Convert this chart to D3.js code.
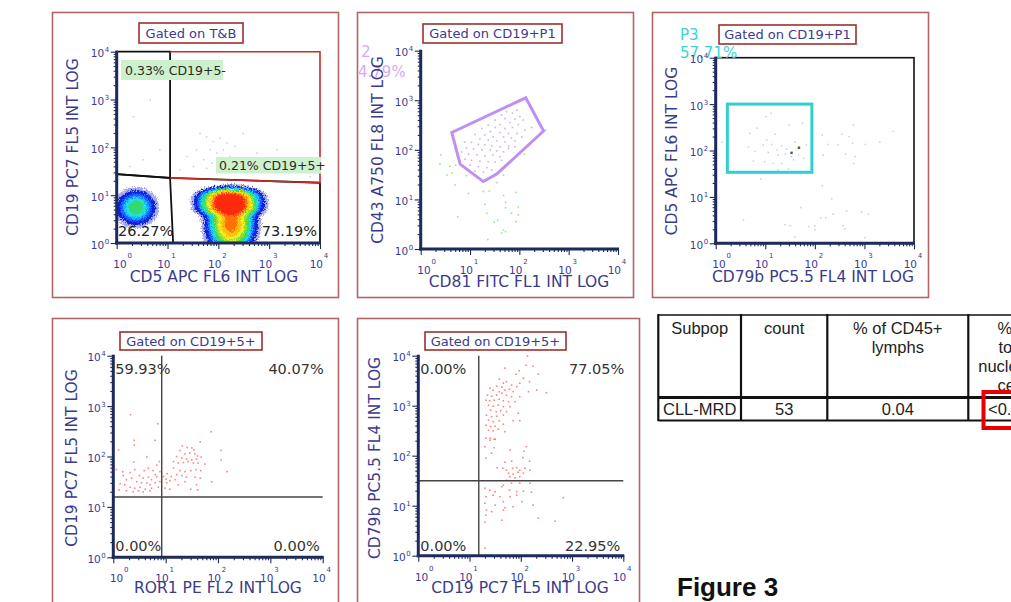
<!DOCTYPE html>
<html><head><meta charset="utf-8">
<script src="https://cdn.jsdelivr.net/npm/d3@7"></script>
<style>body{margin:0;background:#fff;overflow:hidden}svg{display:block;font-family:"DejaVu Sans",Verdana,sans-serif}</style>
</head><body><svg id="c" width="1011" height="602"></svg>
<script>
// ---------------- DATA (all event coordinates are log10 intensities) ----------------
const tickExponents = [0, 1, 2, 3, 4];
const gateTitles = ["Gated on T&B", "Gated on CD19+P1", "Gated on CD19+P1", "Gated on CD19+5+", "Gated on CD19+5+"];
const xAxisTitles = ["CD5 APC FL6 INT LOG", "CD81 FITC FL1 INT LOG", "CD79b PC5.5 FL4 INT LOG", "ROR1 PE FL2 INT LOG", "CD19 PC7 FL5 INT LOG"];
const yAxisTitles = ["CD19 PC7 FL5 INT LOG", "CD43 A750 FL8 INT LOG", "CD5 APC FL6 INT LOG", "CD19 PC7 FL5 INT LOG", "CD79b PC5.5 FL4 INT LOG"];

// Panel 1: density populations [log x, log y, sd x, sd y, weight, shape x, shape y]
const p1Populations = [
  [0.38, 0.74, 0.19, 0.18, 0.16, 2, 2],
  [2.22, 0.85, 0.25, 0.17, 1.00, 2, 3],
  [2.25, 0.40, 0.21, 0.28, 0.50, 2, 2]
];
const p1SparseEvents = [[1.77,2.22],[1.90,2.12],[2.03,2.19],[2.17,2.09],[1.84,1.95],[1.97,1.88],[2.10,1.95],[2.23,1.81],[1.71,1.74],[1.87,1.67],[2.03,1.70],[2.20,1.63],[2.33,2.02],[1.57,1.95],[1.51,1.60],[1.77,1.56],[2.49,1.74],[2.62,1.60],[2.76,1.88],[2.36,1.53],[1.64,2.29],[1.38,1.81],[1.25,1.53],[2.82,1.49],[3.02,1.67],[0.85,1.95],[0.52,1.74],[0.26,1.60],[1.05,2.36],[2.49,2.29],[3.15,1.95],[3.54,1.53],[3.81,1.39],[0.66,2.99],[0.33,2.64]];
const p1GateCD19pos5neg = [[0,4],[1.05,4],[1.05,1.36],[0,1.44]];
const p1GateCD19pos5pos = [[1.05,4],[4,4],[4,1.26],[1.05,1.36]];
const p1LowerGateLine = [[0,1.44],[1.05,1.36],[4,1.26],[4,0]];
const p1Divider = [[1.05,1.36],[1.11,0]];
const p1Labels = ["0.33% CD19+5-", "0.21% CD19+5+", "26.27%", "73.19%"];

// Panel 2
const p2GateP2 = [[0.63,2.35],[2.13,3.05],[2.49,2.38],[1.54,1.51],[1.27,1.36],[0.80,1.71]];
const p2GateLabel = ["2", "4.79%"];
const p2InGate = [[1.95,2.80],[1.86,2.74],[2.01,2.67],[1.71,2.63],[1.91,2.62],[2.08,2.60],[1.81,2.55],[1.61,2.51],[1.98,2.51],[2.25,2.45],[1.51,2.45],[1.71,2.43],[1.86,2.45],[2.11,2.40],[1.41,2.37],[1.61,2.35],[1.78,2.33],[1.95,2.33],[1.30,2.30],[1.47,2.26],[1.68,2.26],[1.84,2.24],[2.05,2.26],[1.20,2.22],[1.37,2.20],[1.54,2.18],[1.71,2.16],[1.91,2.18],[1.03,2.15],[1.17,2.11],[1.30,2.10],[1.44,2.08],[1.61,2.06],[1.78,2.08],[0.93,2.04],[1.07,2.02],[1.24,2.00],[1.41,2.00],[1.54,1.98],[1.68,1.96],[0.83,1.96],[0.97,1.91],[1.14,1.90],[1.30,1.88],[1.47,1.90],[1.61,1.86],[0.90,1.81],[1.03,1.79],[1.20,1.77],[1.37,1.76],[1.51,1.75],[1.00,1.69],[1.17,1.66],[1.34,1.64],[1.10,1.57],[1.27,1.55],[1.44,1.59],[1.74,2.77],[1.64,2.70],[1.51,2.60],[1.37,2.50],[1.24,2.43],[1.10,2.31],[0.89,2.16],[1.78,2.03],[1.91,2.06],[1.64,1.79]];
const p2OutGate = [[0.41,1.90],[0.39,1.71],[0.59,1.67],[0.71,1.69],[0.53,1.49],[0.64,1.53],[0.93,1.48],[0.70,1.29],[0.97,1.12],[1.27,1.16],[1.39,1.17],[1.55,1.34],[1.68,1.49],[2.10,1.91],[2.53,2.40],[1.68,1.08],[1.93,1.14],[1.30,0.90],[1.72,0.94],[1.72,0.83],[1.98,0.85],[1.34,0.72],[1.84,0.72],[1.98,0.69],[0.75,0.65],[1.56,0.58],[1.49,0.54],[1.93,0.55],[1.68,0.38],[1.72,0.35],[1.64,0.32],[1.36,0.19]];

// Panel 3
const p3GateP3 = [[0.235,3.00],[1.94,1.53]];
const p3GateLabel = ["P3", "57.71%"];
const p3Events = [[0.13,2.18],[1.01,2.73],[1.12,2.80],[0.69,2.37],[0.83,2.48],[1.03,2.23],[1.20,2.35],[1.48,2.55],[1.75,2.59],[0.66,2.08],[0.96,2.12],[1.13,2.13],[1.23,2.01],[1.33,2.10],[1.43,2.03],[1.60,2.18],[1.83,2.12],[0.79,1.98],[1.06,1.96],[1.26,1.90],[1.40,1.92],[1.53,1.87],[1.67,1.90],[1.77,1.83],[0.76,1.77],[0.99,1.76],[1.16,1.72],[1.33,1.72],[1.57,1.80],[1.26,1.58],[1.47,1.60],[0.91,1.39],[2.15,2.33],[2.26,2.13],[2.55,2.35],[2.69,2.30],[2.78,2.55],[2.76,2.16],[2.47,2.12],[3.02,2.13],[3.31,2.18],[3.58,2.41],[2.17,1.90],[2.62,1.92],[2.81,1.87],[2.78,1.72],[2.15,1.24],[2.34,0.96],[1.72,0.77],[2.37,0.63],[2.64,0.70],[2.94,0.67],[3.08,0.63],[0.56,0.50],[1.40,0.40],[1.50,0.38],[1.88,0.36],[2.00,0.38],[2.12,0.55],[2.22,0.55],[2.57,0.38],[2.61,0.31],[2.00,0.29],[1.60,0.14],[3.01,0.12]];
const p3Highlighted = [[1.53,1.95],[1.68,2.06]];

// Panel 4 (ROR1 vs CD19)
const p4Quadrant = [0.925, 1.196];
const p4Labels = ["59.93%", "40.07%", "0.00%", "0.00%"];
const p4Events = [[0.33,2.83],[0.85,2.65],[0.40,2.32],[0.40,2.23],[0.80,2.32],[1.87,2.49],[0.10,2.13],[1.66,2.29],[2.06,2.12],[1.32,2.21],[1.41,2.18],[1.50,2.17],[1.54,2.13],[1.27,2.12],[1.46,2.07],[1.37,2.05],[1.56,2.05],[1.61,2.01],[1.21,2.00],[1.31,1.97],[1.40,1.95],[1.50,1.93],[1.59,1.95],[1.68,1.99],[1.15,1.90],[1.24,1.87],[1.34,1.88],[1.43,1.90],[1.53,1.87],[1.62,1.87],[1.75,1.85],[2.06,1.93],[0.64,1.99],[0.39,1.89],[0.88,1.90],[0.83,1.83],[0.06,1.74],[0.18,1.70],[0.32,1.68],[0.41,1.74],[0.59,1.72],[0.76,1.72],[1.15,1.77],[1.27,1.72],[1.37,1.70],[1.48,1.72],[1.58,1.74],[1.67,1.72],[2.17,1.70],[1.21,1.64],[1.31,1.62],[1.40,1.59],[1.56,1.59],[1.66,1.57],[1.11,1.60],[0.50,1.62],[0.57,1.57],[0.67,1.59],[0.73,1.54],[0.83,1.60],[0.96,1.60],[1.01,1.55],[0.25,1.54],[0.35,1.57],[0.45,1.50],[0.54,1.48],[0.64,1.47],[0.70,1.44],[0.80,1.48],[0.89,1.50],[1.02,1.48],[1.08,1.52],[0.13,1.46],[0.22,1.44],[0.32,1.39],[0.41,1.37],[0.51,1.39],[0.61,1.35],[0.73,1.37],[0.86,1.39],[0.99,1.37],[1.08,1.35],[0.11,1.34],[0.25,1.32],[0.38,1.30],[0.48,1.32],[0.57,1.30],[0.70,1.32],[1.48,1.35],[1.61,1.34],[1.88,1.50],[1.37,1.50],[1.59,1.44],[0.19,1.62],[0.89,1.70],[1.03,1.66],[1.18,1.54],[1.24,1.44],[0.67,1.77],[0.80,1.64]];

// Panel 5 (CD19 vs CD79b)
const p5Quadrant = [1.18, 1.50];
const p5Labels = ["0.00%", "77.05%", "0.00%", "22.95%"];
const p5Events = [[2.13,3.99],[2.10,3.81],[2.24,3.79],[1.69,3.75],[1.97,3.70],[1.91,3.63],[2.34,3.63],[1.58,3.53],[2.05,3.55],[2.17,3.48],[1.66,3.45],[1.72,3.48],[1.82,3.41],[1.53,3.39],[1.63,3.37],[1.92,3.38],[1.98,3.45],[1.40,3.35],[1.46,3.31],[1.58,3.28],[1.69,3.31],[1.78,3.33],[1.85,3.28],[2.31,3.31],[2.50,3.26],[2.15,3.28],[1.35,3.21],[1.43,3.19],[1.53,3.21],[1.63,3.25],[1.72,3.21],[1.82,3.18],[1.98,3.18],[1.32,3.11],[1.39,3.10],[1.48,3.11],[1.58,3.13],[1.66,3.10],[1.76,3.08],[1.89,3.08],[1.37,3.01],[1.46,2.99],[1.56,3.01],[1.66,2.98],[1.79,2.98],[1.41,2.91],[1.52,2.88],[1.61,2.90],[1.72,2.88],[1.95,2.85],[1.33,2.81],[1.43,2.78],[1.53,2.79],[1.66,2.81],[1.37,2.71],[1.46,2.68],[1.58,2.70],[1.85,2.70],[1.98,2.70],[1.32,2.61],[1.41,2.58],[1.50,2.59],[1.66,2.63],[1.37,2.51],[1.46,2.50],[1.56,2.53],[1.69,2.48],[1.40,2.35],[1.50,2.33],
  [1.32,2.35],[1.40,2.31],[1.48,2.33],[1.30,2.18],[1.48,2.16],[1.43,2.05],[1.32,1.95],[1.79,2.11],[2.06,2.09],[2.11,2.18],[2.04,1.96],[2.17,1.89],[1.69,1.87],[1.82,1.89],[1.54,1.76],[1.65,1.75],[1.72,1.71],[1.84,1.75],[1.92,1.76],[1.98,1.71],[2.08,1.75],[2.18,1.71],[1.76,1.65],[1.85,1.63],[1.95,1.67],[2.05,1.65],[1.79,1.58],[1.89,1.56],[1.98,1.58],[1.72,1.51],[1.66,1.41],[1.63,1.38],[1.82,1.45],[1.98,1.45],[2.18,1.45],[1.30,1.35],[1.40,1.31],[1.50,1.28],[1.78,1.31],[1.92,1.28],[2.05,1.29],[2.21,1.27],[1.32,1.18],[1.46,1.21],[1.59,1.18],[1.79,1.18],[1.92,1.21],[1.66,1.08],[2.02,1.08],[2.83,1.16],[1.30,1.05],[1.50,1.01],[1.69,0.96],[1.85,0.98],[2.24,1.01],[1.33,0.91],[1.43,0.88],[1.66,0.91],[1.32,0.81],[1.63,0.71],[2.34,0.75],[2.67,0.69],[1.30,0.67],[1.30,0.15]];

// Table
const tableHeaders = [["Subpop"], ["count"], ["% of CD45+", "lymphs"], ["% of", "total", "nucleated", "cells"]];
const tableRow = ["CLL-MRD", "53", "0.04", "<0.01"];
const figureCaption = "Figure 3";

// ---------------- DRAWING ----------------
const svg = d3.select("#c");
const NAVY = "#1d2b5c", TICKTXT = "#3a3a94", TITLE = "#3b3b8c";
const defs = svg.append("defs");
const f = defs.append("filter").attr("id", "speckle").attr("x", "-5%").attr("y", "-5%").attr("width", "110%").attr("height", "110%");
f.append("feTurbulence").attr("type", "fractalNoise").attr("baseFrequency", 0.9).attr("numOctaves", 2).attr("seed", 3).attr("result", "n");
f.append("feDisplacementMap").attr("in", "SourceGraphic").attr("in2", "n").attr("scale", 7).attr("xChannelSelector", "R").attr("yChannelSelector", "G");

const panels = [
  {frame: [52.5, 12.5, 286, 285], title: [139, 23, 104, 20], xr: [116.7, 320], yr: [243, 51.7], yl: [73, 147], xl: [214, 282]},
  {frame: [357.5, 12.5, 276, 285], title: [423, 24, 139, 19], xr: [420.7, 618], yr: [249, 50.7], yl: [378, 150], xl: [519, 287]},
  {frame: [652.5, 12.5, 276, 285], title: [719, 25, 137, 19], xr: [715.7, 914], yr: [243.3, 57.7], yl: [672, 151], xl: [813, 282]},
  {frame: [52.5, 318.5, 286, 300], title: [120, 332, 142, 18], xr: [113.3, 322.7], yr: [557.3, 355.7], yl: [72, 458], xl: [218, 593]},
  {frame: [357.5, 318.5, 282, 300], title: [425, 332, 141, 18], xr: [418.3, 623.3], yr: [555.7, 355.7], yl: [375, 458], xl: [520, 593]}
];

const P = panels.map((p, i) => {
  const x = d3.scaleLog().domain([1, 1e4]).range(p.xr);
  const y = d3.scaleLog().domain([1, 1e4]).range(p.yr);
  const g = svg.append("g");
  g.append("rect").attr("x", p.frame[0]).attr("y", p.frame[1]).attr("width", p.frame[2]).attr("height", p.frame[3])
    .attr("fill", "none").attr("stroke", "#b46464").attr("stroke-width", 1.6);
  return {p, x, y, g, i, X: v => x(Math.pow(10, v)), Y: v => y(Math.pow(10, v))};
});

function drawAxes(o) {
  const {g, x, y, p} = o;
  const minors = [];
  for (let d = 0; d < 4; d++) for (let m = 2; m < 10; m++) minors.push(m * Math.pow(10, d));
  const majors = tickExponents.map(e => Math.pow(10, e));
  const ax = g.append("g");
  const b = p.yr[0], l = p.xr[0];
  [[minors, 3], [majors, 6]].forEach(([vals, sz]) => {
    ax.append("g").attr("transform", `translate(0,${b})`).call(d3.axisBottom(x).tickValues(vals).tickSize(sz).tickFormat(""));
    ax.append("g").attr("transform", `translate(${l},0)`).call(d3.axisLeft(y).tickValues(vals).tickSize(sz).tickFormat(""));
  });
  ax.selectAll(".domain").remove();
  ax.selectAll(".tick line").attr("stroke", NAVY).attr("stroke-width", 1.1);
  ax.append("line").attr("x1", l).attr("x2", l).attr("y1", p.yr[1] - 1).attr("y2", b + 1.5).attr("stroke", NAVY).attr("stroke-width", 3);
  ax.append("line").attr("x1", l - 1.5).attr("x2", p.xr[1] + 1).attr("y1", b).attr("y2", b).attr("stroke", NAVY).attr("stroke-width", 3);
  tickExponents.forEach((e, k) => {
    const tx = x(Math.pow(10, e)) + (k === 0 ? 10 : 3);
    ax.append("text").attr("x", tx).attr("y", b + 25).attr("text-anchor", "end").attr("font-size", 10.5).attr("fill", TICKTXT).text("10");
    ax.append("text").attr("x", tx + 0.8).attr("y", b + 15).attr("font-size", 7).attr("fill", TICKTXT).text(e);
    const ty = y(Math.pow(10, e));
    ax.append("text").attr("x", l - 12.5).attr("y", ty + 5.5).attr("text-anchor", "end").attr("font-size", 10.5).attr("fill", TICKTXT).text("10");
    ax.append("text").attr("x", l - 12).attr("y", ty + 0.5).attr("font-size", 7).attr("fill", TICKTXT).text(e);
  });
  g.append("text").attr("x", p.xl[0]).attr("y", p.xl[1]).attr("text-anchor", "middle").attr("font-size", 15.5).attr("fill", TITLE).text(xAxisTitles[o.i]);
  g.append("text").attr("transform", `translate(${p.yl[0] + 5},${p.yl[1]}) rotate(-90)`).attr("text-anchor", "middle").attr("font-size", 15.5).attr("fill", TITLE).text(yAxisTitles[o.i]);
  const t = p.title;
  g.append("rect").attr("x", t[0]).attr("y", t[1]).attr("width", t[2]).attr("height", t[3]).attr("fill", "#fff").attr("stroke", "#9c3030").attr("stroke-width", 1.6);
  g.append("text").attr("x", t[0] + t[2] / 2).attr("y", t[1] + t[3] / 2 + 4.6).attr("text-anchor", "middle").attr("font-size", 13).attr("fill", TITLE).text(gateTitles[o.i]);
}

function dots(o, data, color, size, op) {
  o.g.append("g").selectAll("rect").data(data).join("rect")
    .attr("x", d => o.X(d[0]) - size / 2).attr("y", d => o.Y(d[1]) - size / 2)
    .attr("width", size).attr("height", size).attr("fill", color).attr("opacity", op);
}

// ---- Panel 1
(function () {
  const o = P[0], p = o.p;
  const w = Math.round(p.xr[1] - p.xr[0]), h = Math.round(p.yr[0] - p.yr[1]);
  const vals = new Float64Array(w * h);
  for (let j = 0; j < h; j++) for (let i = 0; i < w; i++) {
    const lx = Math.log10(o.x.invert(p.xr[0] + i + 0.5)), ly = Math.log10(o.y.invert(p.yr[1] + j + 0.5));
    let s = 0;
    p1Populations.forEach(c => {
      const dx = Math.abs(lx - c[0]) / c[2], dy = Math.abs(ly - c[1]) / c[3];
      s += c[4] * Math.exp(-0.5 * (Math.pow(dx, c[5]) + Math.pow(dy, c[6])));
    });
    vals[j * w + i] = s;
  }
  const mx = d3.max(vals);
  const levels = [0.008, 0.018, 0.036, 0.055, 0.075, 0.1, 0.14, 0.2, 0.27, 0.36, 0.47];
  const cols = ["#3a46c8", "#1020e0", "#1a60ff", "#18b0ff", "#20e0e0", "#30d870", "#90e030", "#f0f020", "#ffc010", "#ff7010", "#ff2a08"];
  const contours = d3.contours().size([w, h]).thresholds(levels.map(v => v * mx))(vals);
  o.g.append("clipPath").attr("id", "clip1").append("rect").attr("x", p.xr[0]).attr("y", p.yr[1]).attr("width", w).attr("height", h);
  const dg = o.g.append("g").attr("clip-path", "url(#clip1)").append("g").attr("filter", "url(#speckle)")
    .attr("transform", `translate(${p.xr[0]},${p.yr[1]})`);
  dg.selectAll("path").data(contours).join("path").attr("d", d3.geoPath()).attr("fill", (d, k) => cols[k]).attr("opacity", (d, k) => k === 0 ? 0.45 : 1);
  dots(o, p1SparseEvents, "#9aa0d8", 1.4, 0.6);
  const line = d3.line().x(d => o.X(d[0])).y(d => o.Y(d[1]));
  o.g.append("path").attr("d", line(p1GateCD19pos5neg) + "Z").attr("fill", "none").attr("stroke", "#111").attr("stroke-width", 1.8);
  o.g.append("path").attr("d", line(p1LowerGateLine)).attr("fill", "none").attr("stroke", "#111").attr("stroke-width", 1.8);
  o.g.append("path").attr("d", line(p1Divider)).attr("fill", "none").attr("stroke", "#111").attr("stroke-width", 1.8);
  o.g.append("path").attr("d", line(p1GateCD19pos5pos)).attr("fill", "none").attr("stroke", "#cc2a2a").attr("stroke-width", 1.6);
  [[121, 60, 102, 20, 125, 75], [216, 157, 105, 16.5, 219, 170]].forEach((b, k) => {
    o.g.append("rect").attr("x", b[0]).attr("y", b[1]).attr("width", b[2]).attr("height", b[3]).attr("fill", "#cdf0cd");
    o.g.append("text").attr("x", b[4]).attr("y", b[5]).attr("font-size", 12.5).attr("fill", "#2a2a2a").text(p1Labels[k]);
  });
  o.g.append("text").attr("x", 118).attr("y", 236).attr("font-size", 14.5).attr("fill", "#222").text(p1Labels[2]);
  o.g.append("text").attr("x", 317).attr("y", 236).attr("text-anchor", "end").attr("font-size", 14.5).attr("fill", "#222").text(p1Labels[3]);
  drawAxes(o);
})();

// ---- Panel 2
(function () {
  const o = P[1];
  o.g.append("text").attr("x", 361).attr("y", 57).attr("font-size", 15).attr("fill", "#d8a8f2").text(p2GateLabel[0]);
  o.g.append("text").attr("x", 358).attr("y", 77).attr("font-size", 15).attr("fill", "#d8a8f2").text(p2GateLabel[1]);
  dots(o, p2OutGate, "#88e488", 1.6, 0.9);
  dots(o, p2InGate, "#c8a2f0", 1.6, 0.85);
  const line = d3.line().x(d => o.X(d[0])).y(d => o.Y(d[1]));
  o.g.append("path").attr("d", line(p2GateP2) + "Z").attr("fill", "none").attr("stroke", "#c08ff2").attr("stroke-width", 3);
  drawAxes(o);
})();

// ---- Panel 3
(function () {
  const o = P[2], p = o.p;
  o.g.append("rect").attr("x", p.xr[0]).attr("y", p.yr[1]).attr("width", p.xr[1] - p.xr[0]).attr("height", p.yr[0] - p.yr[1])
    .attr("fill", "none").attr("stroke", "#111").attr("stroke-width", 1.6);
  dots(o, p3Events, "#b4b6e0", 1.5, 0.7);
  dots(o, p3Highlighted, "#3c6a28", 2.4, 1);
  const r = p3GateP3;
  o.g.append("rect").attr("x", o.X(r[0][0])).attr("y", o.Y(r[0][1])).attr("width", o.X(r[1][0]) - o.X(r[0][0])).attr("height", o.Y(r[1][1]) - o.Y(r[0][1]))
    .attr("fill", "none").attr("stroke", "#2ed0d0").attr("stroke-width", 3);
  o.g.append("text").attr("x", 680).attr("y", 40).attr("font-size", 15).attr("fill", "#3cd4d4").text(p3GateLabel[0]);
  o.g.append("text").attr("x", 680).attr("y", 58).attr("font-size", 15).attr("fill", "#3cd4d4").text(p3GateLabel[1]);
  drawAxes(o);
})();

// ---- Panels 4 & 5 (quadrants)
[[P[3], p4Events, p4Quadrant, p4Labels], [P[4], p5Events, p5Quadrant, p5Labels]].forEach(([o, ev, q, lab]) => {
  const p = o.p;
  dots(o, ev, "#ff5a5a", 1.6, 0.75);
  o.g.append("line").attr("x1", o.X(q[0])).attr("x2", o.X(q[0])).attr("y1", p.yr[1]).attr("y2", p.yr[0]).attr("stroke", "#444").attr("stroke-width", 1.4);
  o.g.append("line").attr("x1", p.xr[0]).attr("x2", p.xr[1]).attr("y1", o.Y(q[1])).attr("y2", o.Y(q[1])).attr("stroke", "#444").attr("stroke-width", 1.4);
  const L = p.xr[0] + 2, R = p.xr[1] + 1;
  o.g.append("text").attr("x", L).attr("y", 374).attr("font-size", 14.5).attr("fill", "#333").text(lab[0]);
  o.g.append("text").attr("x", R).attr("y", 374).attr("text-anchor", "end").attr("font-size", 14.5).attr("fill", "#333").text(lab[1]);
  o.g.append("text").attr("x", L).attr("y", 551).attr("font-size", 14.5).attr("fill", "#333").text(lab[2]);
  o.g.append("text").attr("x", R - 4).attr("y", 551).attr("text-anchor", "end").attr("font-size", 14.5).attr("fill", "#333").text(lab[3]);
  drawAxes(o);
});

// ---- Table
(function () {
  const t = svg.append("g").attr("font-family", "'Liberation Sans', Arial, sans-serif").attr("font-size", 16.5).attr("fill", "#222");
  const cx = [658.3, 741, 827.3, 968.3, 1060];
  t.append("line").attr("x1", cx[0]).attr("x2", 1011).attr("y1", 315).attr("y2", 315).attr("stroke", "#111").attr("stroke-width", 1.5);
  t.append("line").attr("x1", cx[0]).attr("x2", 1011).attr("y1", 397.5).attr("y2", 397.5).attr("stroke", "#111").attr("stroke-width", 3);
  t.append("line").attr("x1", cx[0]).attr("x2", 1011).attr("y1", 420.5).attr("y2", 420.5).attr("stroke", "#111").attr("stroke-width", 2);
  cx.slice(0, 4).forEach(v => t.append("line").attr("x1", v).attr("x2", v).attr("y1", 314).attr("y2", 421).attr("stroke", "#111").attr("stroke-width", 2.2));
  tableHeaders.forEach((lines, k) => {
    const mid = k < 3 ? (cx[k] + cx[k + 1]) / 2 : 1014;
    lines.forEach((s, j) => t.append("text").attr("x", mid).attr("y", 334 + j * 19).attr("text-anchor", "middle").text(s));
  });
  tableRow.forEach((s, k) => {
    const mid = k < 3 ? (cx[k] + cx[k + 1]) / 2 : 988;
    t.append("text").attr("x", mid).attr("y", 415).attr("text-anchor", k < 3 ? "middle" : "start").text(s);
  });
  t.append("rect").attr("x", 983.5).attr("y", 392).attr("width", 60).attr("height", 36).attr("fill", "none").attr("stroke", "#e60000").attr("stroke-width", 4);
  svg.append("text").attr("x", 677).attr("y", 596).attr("font-family", "'Liberation Sans', Arial, sans-serif").attr("font-weight", "bold").attr("font-size", 26).attr("fill", "#111").text(figureCaption);
})();
</script></body></html>
